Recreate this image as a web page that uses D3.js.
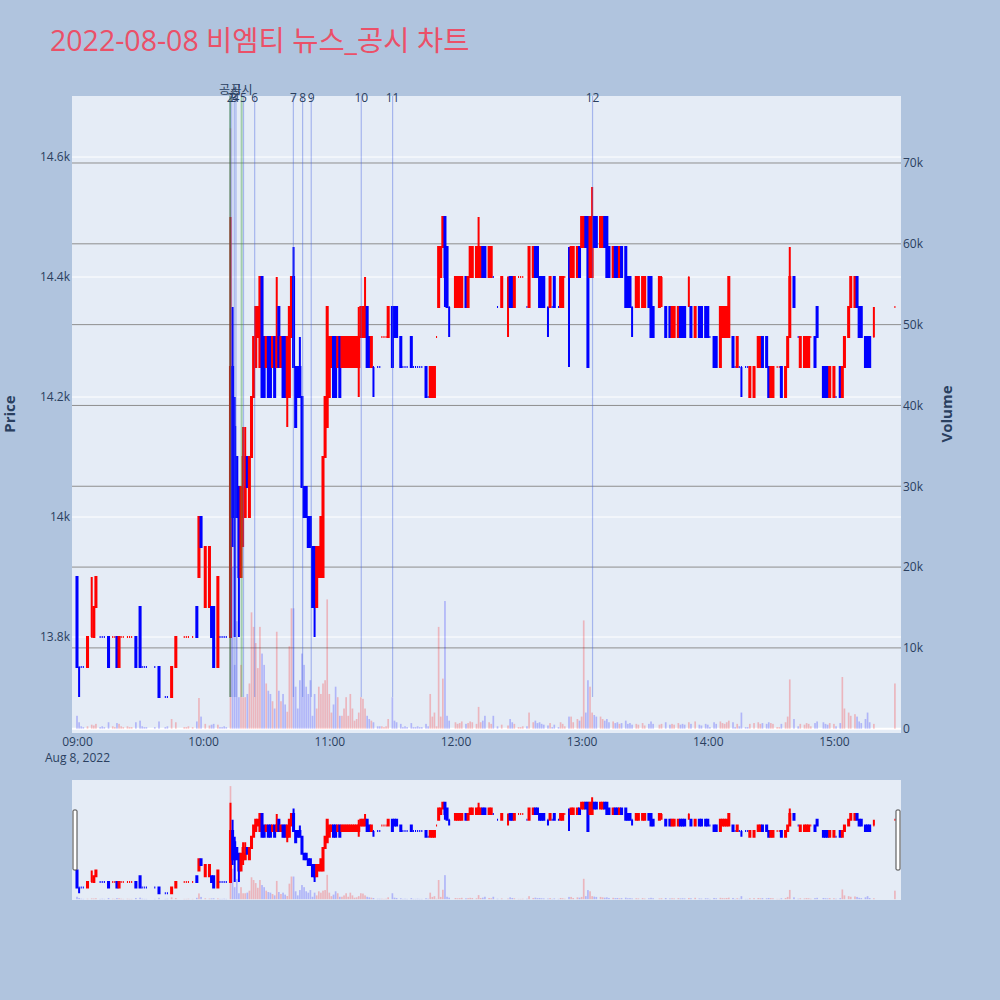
<!DOCTYPE html>
<html><head><meta charset="utf-8">
<script src="https://cdn.jsdelivr.net/npm/d3@7/dist/d3.min.js"></script>
<style>
html,body{margin:0;padding:0;background:#b0c4de;}
svg{display:block;}
text{font-family:"Open Sans","Noto Sans CJK KR",sans-serif;}
</style></head><body>
<svg id="chart" width="1000" height="1000"></svg>
<script>
// ---------------- DATA ----------------
const titleText = "2022-08-08 비엠티 뉴스_공시 차트";
// minutes after 09:00 for each 1-minute candle
const minutes = [
0,1,2,3,5,7,8,9,11,12, 13,15,17,18,19,20,21,22,24,25, 26,28,30,31,32,33,37,39,42,43, 45,47,51,52,53,55,57,58,59,61,
63,64,65,67,68,69,70,71,73,74, 75,76,77,78,79,80,81,82,83,84, 85,86,87,88,89,90,91,92,93,94, 95,96,97,98,99,100,101,102,103,104,
105,106,107,108,109,110,111,112,113,114, 115,116,117,118,119,120,121,122,123,124, 125,126,127,128,129,130,131,132,133,134, 135,136,137,138,139,140,141,143,144,145,
146,147,148,150,151,152,154,155,156,157, 159,160,161,162,163,164,166,167,168,169, 170,171,172,173,174,175,176,177,180,181, 182,183,185,186,187,188,190,191,192,193,
194,196,197,198,200,202,205,206,207,208, 210,211,212,214,215,217,218,219,220,221, 222,224,225,226,227,229,230,231,232,234, 235,236,238,239,240,241,242,243,244,245,
246,247,249,250,251,252,253,255,256,257, 258,259,261,262,263,264,266,267,269,270, 272,273,274,277,278,280,282,283,284,286, 287,288,289,291,292,294,296,297,299,300,
301,303,304,306,307,308,309,310,312,313, 314,315,316,318,319,320,322,324,325,326, 328,329,330,331,333,334,335,337,338,339, 341,343,344,346,347,348,349,351,352,355,
356,357,358,360,361,363,364,365,367,368, 370,371,372,373,375,376,377,379,389];
const opens = [
13900,13750,13750,13750,13750,13800,13800,13850,13800,13800, 13800,13800,13800,13800,13800,13750,13800,13800,13800,13800, 13800,13800,13850,13750,13750,13750,13750,13750,13700,13700, 13700,13750,13800,13800,13800,13800,13850,13900,14000,13850,
13850,13850,13850,13750,13800,13800,13800,13800,13800,14250, 14150,14100,14050,13900,14000,14000,14100,14000,14100,14200, 14250,14300,14250,14400,14300,14250,14300,14300,14250,14300, 14250,14350,14250,14300,14300,14200,14200,14300,14400,14250,
14250,14250,14200,14050,14050,14000,14000,13950,13950,13850, 13900,13900,13900,14100,14150,14200,14250,14300,14300,14250, 14300,14250,14250,14250,14250,14250,14250,14250,14250,14250, 14300,14300,14300,14350,14300,14250,14250,14250,14250,14300,
14300,14300,14300,14350,14350,14350,14300,14250,14250,14250, 14300,14250,14250,14250,14250,14250,14250,14200,14200,14200, 14200,14300,14350,14400,14450,14500,14450,14350,14350,14350, 14350,14350,14400,14350,14400,14400,14400,14400,14400,14450,
14450,14400,14400,14400,14350,14350,14400,14400,14400,14350, 14400,14400,14400,14350,14350,14400,14450,14450,14400,14400, 14400,14350,14350,14350,14400,14350,14350,14350,14400,14350, 14400,14400,14400,14450,14450,14450,14500,14500,14400,14400,
14500,14500,14450,14450,14500,14500,14450,14400,14450,14450, 14400,14450,14450,14400,14400,14350,14350,14350,14350,14350, 14400,14400,14350,14350,14400,14350,14350,14300,14300,14300, 14350,14350,14350,14400,14350,14300,14350,14350,14350,14350,
14300,14300,14300,14250,14300,14300,14300,14300,14300,14250, 14250,14250,14250,14250,14250,14200,14200,14250,14250,14300, 14300,14250,14200,14200,14250,14250,14250,14200,14250,14300, 14400,14300,14250,14250,14250,14250,14300,14300,14350,14250,
14250,14250,14200,14200,14200,14250,14200,14250,14300,14350, 14350,14400,14350,14350,14300,14300,14300,14300,14350];
const highs = [
13900,13750,13750,13750,13800,13900,13850,13900,13800,13800, 13800,13800,13800,13800,13800,13800,13800,13800,13800,13800, 13800,13800,13850,13750,13750,13750,13750,13750,13700,13700, 13750,13800,13800,13800,13800,13800,13850,14000,14000,13950,
13950,13850,13850,13900,13800,13800,13800,13800,14500,14350, 14200,14100,14050,14050,14150,14150,14100,14100,14200,14300, 14350,14350,14400,14400,14300,14300,14300,14300,14300,14300, 14400,14350,14300,14300,14300,14300,14350,14400,14450,14250,
14250,14300,14200,14050,14050,14000,14000,13950,13950,13950, 13950,14000,14100,14200,14350,14300,14300,14300,14300,14300, 14300,14300,14300,14300,14300,14300,14300,14300,14300,14350, 14350,14350,14400,14350,14300,14300,14250,14250,14250,14300,
14300,14300,14350,14350,14350,14350,14300,14250,14250,14250, 14300,14250,14250,14250,14250,14250,14250,14200,14250,14250, 14250,14300,14450,14450,14500,14500,14450,14350,14400,14400, 14400,14400,14400,14400,14450,14450,14450,14500,14450,14450,
14450,14450,14450,14400,14350,14400,14400,14400,14400,14400, 14400,14400,14400,14350,14450,14450,14450,14450,14400,14400, 14400,14350,14400,14350,14400,14350,14400,14400,14400,14450, 14450,14450,14450,14450,14500,14500,14500,14500,14500,14550,
14500,14500,14500,14500,14500,14500,14450,14450,14450,14450, 14450,14450,14450,14400,14400,14350,14400,14400,14400,14400, 14400,14400,14350,14400,14400,14350,14350,14350,14350,14350, 14350,14350,14350,14400,14350,14350,14350,14350,14350,14350,
14300,14300,14300,14350,14350,14350,14350,14400,14300,14250, 14300,14250,14250,14250,14250,14250,14250,14300,14300,14300, 14300,14250,14250,14250,14250,14250,14250,14250,14300,14450, 14400,14300,14300,14300,14300,14300,14300,14300,14350,14250,
14250,14250,14250,14250,14200,14250,14250,14300,14350,14400, 14400,14400,14350,14350,14300,14300,14300,14350,14350];
const lows = [
13750,13700,13750,13750,13750,13800,13800,13850,13800,13800, 13800,13750,13800,13800,13750,13750,13800,13800,13800,13800, 13800,13750,13750,13750,13750,13750,13750,13700,13700,13700, 13700,13750,13800,13800,13800,13800,13800,13900,13950,13850,
13850,13800,13750,13750,13800,13800,13800,13800,13800,13950, 13800,14000,13800,13900,13950,14000,14050,14000,14100,14200, 14250,14300,14250,14200,14200,14250,14200,14200,14250,14200, 14250,14250,14250,14200,14200,14150,14200,14300,14250,14150,
14200,14200,14050,14000,14000,13950,13950,13850,13800,13850, 13900,13900,13900,14100,14150,14200,14250,14200,14200,14250, 14200,14250,14250,14250,14250,14250,14250,14250,14250,14200, 14300,14300,14300,14250,14250,14250,14200,14250,14250,14300,
14300,14300,14300,14250,14300,14300,14250,14250,14250,14250, 14250,14250,14250,14250,14250,14250,14200,14200,14200,14200, 14200,14300,14350,14400,14450,14350,14350,14300,14350,14350, 14350,14350,14350,14350,14400,14400,14400,14400,14400,14400,
14400,14400,14400,14400,14350,14350,14300,14350,14350,14350, 14400,14400,14400,14350,14350,14400,14400,14400,14350,14350, 14350,14300,14350,14350,14350,14350,14350,14350,14400,14250, 14400,14400,14400,14400,14450,14450,14450,14250,14400,14400,
14450,14450,14450,14450,14450,14400,14400,14400,14400,14400, 14400,14400,14350,14350,14350,14300,14350,14350,14350,14350, 14350,14300,14300,14350,14350,14300,14300,14300,14300,14300, 14300,14300,14300,14350,14300,14300,14300,14300,14300,14300,
14300,14250,14250,14250,14300,14300,14300,14300,14250,14250, 14250,14250,14200,14250,14250,14200,14200,14250,14250,14250, 14250,14200,14200,14200,14250,14250,14200,14200,14250,14300, 14350,14300,14250,14250,14250,14250,14300,14250,14300,14200,
14200,14200,14200,14200,14200,14200,14200,14250,14300,14350, 14350,14350,14300,14300,14250,14250,14250,14300,14350];
const closes = [
13750,13750,13750,13750,13800,13800,13850,13900,13800,13800, 13800,13750,13800,13800,13750,13800,13800,13800,13800,13800, 13800,13750,13750,13750,13750,13750,13750,13700,13700,13700, 13750,13800,13800,13800,13800,13800,13800,14000,13950,13950,
13950,13800,13750,13900,13800,13800,13800,13800,14250,14000, 14000,14000,13900,14050,14100,14050,14050,14100,14200,14300, 14350,14350,14400,14200,14200,14300,14200,14200,14300,14200, 14300,14250,14300,14200,14200,14300,14350,14400,14250,14150,
14200,14200,14050,14000,14000,13950,13950,13850,13850,13950, 13950,14000,14100,14200,14350,14300,14300,14200,14200,14300, 14200,14300,14300,14300,14300,14300,14300,14300,14300,14300, 14350,14350,14350,14250,14250,14300,14250,14250,14250,14300,
14300,14300,14350,14250,14300,14300,14250,14250,14250,14250, 14250,14250,14250,14250,14250,14250,14200,14200,14250,14250, 14250,14300,14450,14450,14500,14400,14350,14350,14400,14400, 14400,14400,14350,14400,14450,14450,14450,14450,14450,14400,
14400,14450,14450,14400,14350,14400,14400,14350,14350,14400, 14400,14400,14400,14350,14450,14450,14400,14400,14350,14350, 14350,14350,14400,14350,14350,14350,14400,14400,14400,14350, 14450,14450,14450,14400,14500,14500,14450,14250,14500,14500,
14450,14450,14500,14500,14450,14400,14400,14450,14400,14400, 14450,14400,14350,14350,14350,14350,14400,14400,14400,14400, 14350,14300,14300,14400,14400,14300,14300,14350,14350,14350, 14300,14300,14300,14400,14300,14350,14300,14300,14300,14300,
14300,14250,14250,14350,14350,14350,14350,14400,14250,14250, 14300,14250,14250,14250,14250,14250,14250,14300,14300,14250, 14250,14200,14250,14250,14250,14250,14200,14250,14300,14400, 14350,14300,14300,14300,14300,14300,14300,14250,14300,14200,
14200,14200,14250,14250,14200,14200,14250,14300,14350,14400, 14400,14350,14300,14300,14250,14250,14250,14300,14350];
const volumes = [
1600,800,300,200,300,500,400,600,200,300, 200,800,300,200,700,600,300,200,300,200, 200,800,1000,300,200,200,200,900,200,300, 1200,800,200,200,300,200,900,3800,1500,600,
400,500,600,500,200,200,300,200,74300,20000, 7900,13300,3900,7900,3900,3900,4300,5600,14400,12600, 10600,7500,12600,9300,7900,5600,4700,4300,3400,2500, 12000,4700,3400,4300,3000,2100,10200,14900,14900,5200,
2500,6000,9300,7900,5200,4300,6000,1600,4300,2500, 5200,4300,5600,6000,16000,4300,2000,3000,5200,3900, 1600,1600,2500,3900,1600,4300,2500,1000,1200,2000, 3900,3700,2500,1600,1200,1000,800,300,300,300,
200,300,1200,3900,1000,800,600,200,300,200, 700,200,200,300,200,200,600,300,4300,1500, 2000,300,12600,1500,6200,15800,1600,1000,800,600, 700,900,600,700,900,800,600,2700,800,1000,
1600,800,600,1600,300,500,400,1200,800,600, 200,200,300,300,2000,800,1000,700,800,600, 500,400,700,200,500,200,800,600,300,1500, 1500,800,1200,1000,1500,13400,2000,6000,5200,2000,
1700,1500,1500,1200,1000,1200,800,900,700,800, 600,700,1000,600,700,500,600,500,700,400, 600,900,600,500,600,800,500,600,500,700, 500,600,500,800,600,900,500,400,600,500,
200,800,600,900,700,600,800,1000,800,200, 600,300,2000,200,200,600,700,800,600,700, 600,800,700,600,200,200,600,800,1500,6100, 1200,300,600,500,700,600,300,700,900,800,
600,500,700,600,300,700,6400,2500,2000,1600, 1800,1500,900,700,1200,2000,800,600,5600];

const priceTicks = [13800, 14000, 14200, 14400, 14600];
const volumeTicks = [0, 10000, 20000, 30000, 40000, 50000, 60000, 70000];
const hourTicks = [0, 60, 120, 180, 240, 300, 360];      // minutes after 09:00
const dateLabel = "Aug 8, 2022";
// disclosure (공시) marks and numbered news marks, minutes after 09:00
const disclosureMinutes = [72.8, 78.3];
const disclosureLabels = ["공시", "공시"];
const newsMinutes = [73.6, 72.9, 74.8, 75.6, 79.2, 84.5, 102.9, 107.3, 111.4, 135.2, 150.1, 245.2];
const newsLabels = ["1","2","3","4","5","6","7","8","9","10","11","12"];

// ---------------- LAYOUT ----------------
const P = {l:72, r:901, t:96, b:733};
const S = {t:780, b:900};
const t0 = new Date(2022, 7, 8, 9, 0, 0);
const toDate = m => new Date(t0.getTime() + m * 60000);
const priceDomain = [13640, 14701.7];
const volDomain = [-530, 78290];
const INC = "#ff0000", DEC = "#0000ff";

const svg = d3.select("#chart");
svg.append("rect").attr("width", 1000).attr("height", 1000).attr("fill", "#b0c4de");

const x = d3.scaleTime().domain([toDate(-2.378), toDate(391.9)]).range([P.l, P.r]);
const yP = d3.scaleLinear().domain(priceDomain).range([P.b, P.t]);
const yV = d3.scaleLinear().domain(volDomain).range([P.b, P.t]);
const yPs = d3.scaleLinear().domain(priceDomain).range([S.b, S.t]);
const yVs = d3.scaleLinear().domain(volDomain).range([S.b, S.t]);

// build records with plotly-like direction logic
const data = [];
let prevC = null, inc = false;
for (let i = 0; i < minutes.length; i++) {
  const o = opens[i], c = closes[i];
  if (o !== c) inc = c > o;
  else if (prevC !== null && c !== prevC) inc = c > prevC;
  data.push({date: toDate(minutes[i]), o, h: highs[i], l: lows[i], c, v: volumes[i], inc});
  prevC = c;
}

// title
svg.append("text").attr("x", 50).attr("y", 50.5)
  .attr("font-size", 28.5).attr("fill", "#eb5068").text(titleText);

// plot background
svg.append("rect").attr("x", P.l).attr("y", P.t).attr("width", P.r - P.l).attr("height", P.b - P.t).attr("fill", "#e5ecf6");

// gridlines
const grid = svg.append("g");
grid.selectAll(".gp").data(priceTicks).join("line")
  .attr("x1", P.l).attr("x2", P.r).attr("y1", d => yP(d)).attr("y2", d => yP(d))
  .attr("stroke", "#ffffff").attr("stroke-width", 1);
grid.selectAll(".gv").data(volumeTicks.filter(d => d > 0)).join("line")
  .attr("x1", P.l).attr("x2", P.r).attr("y1", d => yV(d)).attr("y2", d => yV(d))
  .attr("stroke", "#8e8e8e").attr("stroke-width", 1);
grid.append("line").attr("x1", P.l).attr("x2", P.r).attr("y1", yV(0)).attr("y2", yV(0))
  .attr("stroke", "#ffffff").attr("stroke-width", 2);

const HW = 0.52;
function candlePath(d, xs, ys) {
  const cx = xs(d.date), o = ys(d.o), c = ys(d.c), h = ys(d.h), l = ys(d.l);
  const top = Math.min(o, c), bot = Math.max(o, c);
  return `M${cx - HW},${bot}H${cx + HW}V${top}H${cx - HW}Z M${cx},${bot}V${l} M${cx},${top}V${h}`;
}
function drawSeries(g, ys, yvs) {
  g.append("g").selectAll("path").data(data).join("path")
    .attr("d", d => candlePath(d, x, ys))
    .attr("stroke", d => d.inc ? INC : DEC)
    .attr("fill", d => d.inc ? "rgba(255,0,0,0.5)" : "rgba(0,0,255,0.5)")
    .attr("stroke-width", 2);
  const bw = x(toDate(0.8)) - x(toDate(0));
  g.append("g").selectAll("rect").data(data).join("rect")
    .attr("x", d => x(d.date) - bw / 2).attr("width", bw)
    .attr("y", d => yvs(d.v)).attr("height", d => yvs(0) - yvs(d.v))
    .attr("fill", d => d.inc ? INC : DEC).attr("opacity", 0.23);
}

svg.append("clipPath").attr("id", "clipMain").append("rect")
  .attr("x", P.l).attr("y", P.t).attr("width", P.r - P.l).attr("height", P.b - P.t);
const main = svg.append("g").attr("clip-path", "url(#clipMain)");
drawSeries(main, yP, yV);

// annotation lines
const ann = svg.append("g");
ann.selectAll(".nl").data(newsMinutes).join("line")
  .attr("x1", d => x(toDate(d))).attr("x2", d => x(toDate(d)))
  .attr("y1", yP(13700)).attr("y2", P.t)
  .attr("stroke", "rgba(70,100,225,0.4)").attr("stroke-width", 1.2);
ann.selectAll(".dl").data(disclosureMinutes).join("line")
  .attr("x1", d => x(toDate(d))).attr("x2", d => x(toDate(d)))
  .attr("y1", yP(13700)).attr("y2", P.t)
  .attr("stroke", (d, i) => i === 0 ? "rgba(40,120,40,0.7)" : "rgba(60,160,60,0.4)")
  .attr("stroke-width", (d, i) => i === 0 ? 1.2 : 2);
ann.selectAll(".nt").data(newsMinutes).join("text")
  .attr("x", d => x(toDate(d))).attr("y", 101.5).attr("text-anchor", "middle")
  .attr("font-size", 12).attr("fill", "#2a3f5f").text((d, i) => newsLabels[i]);
ann.selectAll(".dt").data(disclosureMinutes).join("text")
  .attr("x", d => x(toDate(d))).attr("y", 94).attr("text-anchor", "middle")
  .attr("font-size", 12).attr("fill", "#2a3f5f").text((d, i) => disclosureLabels[i]);

// axes
const kfmt = d3.format("~s");
const axL = svg.append("g").attr("transform", `translate(${P.l},0)`)
  .call(d3.axisLeft(yP).tickValues(priceTicks).tickFormat(kfmt).tickSize(0).tickPadding(2));
const axR = svg.append("g").attr("transform", `translate(${P.r},0)`)
  .call(d3.axisRight(yV).tickValues(volumeTicks).tickFormat(kfmt).tickSize(0).tickPadding(2));
const axB = svg.append("g").attr("transform", `translate(0,${P.b})`)
  .call(d3.axisBottom(x).tickValues(hourTicks.map(toDate)).tickFormat(d3.timeFormat("%H:%M")).tickSize(0).tickPadding(4));
[axL, axR, axB].forEach(a => {
  a.select(".domain").remove();
  a.selectAll("text").attr("font-size", 12).attr("fill", "#2a3f5f")
    .attr("font-family", '"Open Sans","Noto Sans CJK KR",sans-serif');
});
axB.selectAll(".tick").filter((d, i) => i === 0).append("text")
  .attr("y", 20).attr("dy", "0.71em").attr("text-anchor", "middle")
  .attr("font-size", 12).attr("fill", "#2a3f5f").text(dateLabel);

svg.append("text").attr("transform", "translate(15,414) rotate(-90)").attr("text-anchor", "middle")
  .attr("font-size", 15).attr("font-weight", "bold").attr("fill", "#2a3f5f").text("Price");
svg.append("text").attr("transform", "translate(952,414) rotate(-90)").attr("text-anchor", "middle")
  .attr("font-size", 15).attr("font-weight", "bold").attr("fill", "#2a3f5f").text("Volume");

// range slider
svg.append("rect").attr("x", P.l).attr("y", S.t).attr("width", P.r - P.l).attr("height", S.b - S.t).attr("fill", "#e5ecf6");
svg.append("clipPath").attr("id", "clipSl").append("rect")
  .attr("x", P.l).attr("y", S.t).attr("width", P.r - P.l).attr("height", S.b - S.t);
const sl = svg.append("g").attr("clip-path", "url(#clipSl)");
drawSeries(sl, yPs, yVs);
[P.l + 3, P.r - 3].forEach(cx => {
  svg.append("rect").attr("x", cx - 2).attr("y", 810).attr("width", 4).attr("height", 60)
    .attr("rx", 1).attr("fill", "#ffffff").attr("stroke", "#444").attr("stroke-width", 1);
});
</script></body></html>
